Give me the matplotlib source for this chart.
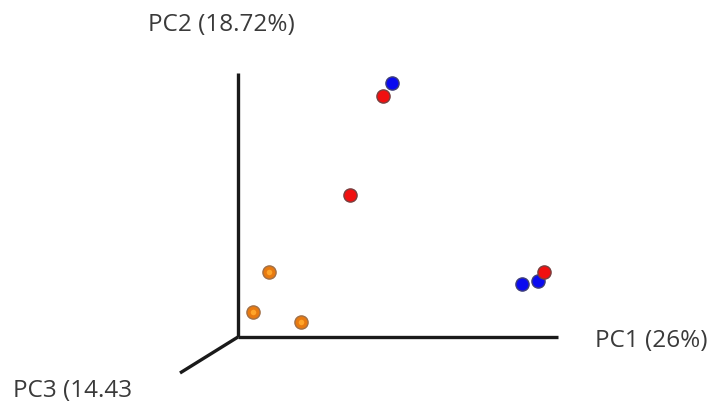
import matplotlib
matplotlib.use("Agg")
from matplotlib import pyplot as plt
import numpy as np

# projected positions of the samples (PC1 right, PC2 up), arbitrary units
blue_x = [154, 284, 300]
blue_y = [254, 53, 56]
red_x = [145, 112, 306]
red_y = [241, 142, 65]
orange_x = [31, 15, 63]
orange_y = [65, 25, 15]

axis_labels = ["PC1 (26%)", "PC2 (18.72%)", "PC3 (14.43"]

plt.rcParams["font.family"] = ["Open Sans", "DejaVu Sans"]

fig = plt.figure(figsize=(7.1, 4.03), dpi=100)
ax = fig.add_axes([0, 0, 1, 1])
ax.set_xlim(-238, 472)
ax.set_ylim(-66, 337)
ax.axis("off")

# the three axes
ax.plot([0, 320], [0, 0], color="#1a1a1a", lw=2.4, solid_capstyle="butt")
ax.plot([0, 0], [0, 264], color="#1a1a1a", lw=2.4, solid_capstyle="butt")
ax.plot([0, -58], [0, -36], color="#1a1a1a", lw=2.4, solid_capstyle="butt")

tc = "#3a3a3a"
fs = 17.5
ax.text(-17, 312, axis_labels[1], fontsize=fs, color=tc, ha="center", va="center")
ax.text(413, -4, axis_labels[0], fontsize=fs, color=tc, ha="center", va="center")
ax.text(-165, -54, axis_labels[2], fontsize=fs, color=tc, ha="center", va="center")

ms = 9.5
ax.plot(orange_x, orange_y, "o", ms=ms, mfc="#e87a10", mec="#a07048", mew=1.0)
ax.plot(orange_x, orange_y, "o", ms=4, mfc="#ffa52a", mec="none")
ax.plot(blue_x, blue_y, "o", ms=ms, mfc="#0a0af0", mec="#404078", mew=1.0)
ax.plot(red_x, red_y, "o", ms=ms, mfc="#f01010", mec="#784040", mew=1.0)

fig.savefig("out.png", dpi=100)
